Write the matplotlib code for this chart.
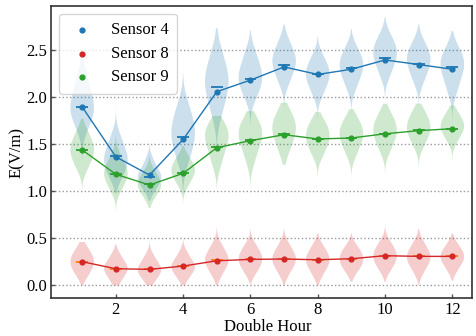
import matplotlib
matplotlib.use("Agg")
import matplotlib.pyplot as plt
from matplotlib import mlab
import numpy as np

plt.rcParams['font.family'] = ['Liberation Serif', 'DejaVu Serif']

hours = list(range(1, 13))
x_ticks = [2, 4, 6, 8, 10, 12]
y_ticks = [0.0, 0.5, 1.0, 1.5, 2.0, 2.5]

# mean values
mean_s4 = [1.895, 1.365, 1.172, 1.55, 2.057, 2.18, 2.32, 2.24, 2.295, 2.394, 2.345, 2.295]
mean_s8 = [0.251, 0.177, 0.170, 0.205, 0.261, 0.276, 0.280, 0.272, 0.283, 0.315, 0.308, 0.308]
mean_s9 = [1.438, 1.18, 1.066, 1.19, 1.462, 1.537, 1.60, 1.555, 1.565, 1.61, 1.643, 1.664]

# median values
med_s4 = [1.89, 1.37, 1.155, 1.58, 2.11, 2.19, 2.34, 2.24, 2.305, 2.41, 2.35, 2.32]
med_s8 = [0.25, 0.177, 0.17, 0.205, 0.265, 0.278, 0.28, 0.272, 0.285, 0.317, 0.31, 0.31]
med_s9 = [1.44, 1.18, 1.075, 1.19, 1.465, 1.54, 1.605, 1.555, 1.565, 1.612, 1.645, 1.665]

# lowest / highest value of each violin
lo_s4 = [1.3, 0.98, 0.9, 0.98, 0.87, 1.4, 1.65, 1.6, 1.65, 1.75, 1.7, 1.6]
hi_s4 = [2.4, 2.0, 1.83, 2.25, 2.73, 2.71, 2.77, 2.64, 2.72, 2.85, 2.77, 2.7]
lo_s8 = [0.0, 0.0, 0.0, 0.0, 0.0, 0.02, 0.0, 0.0, 0.04, 0.04, 0.0, 0.05]
hi_s8 = [0.46, 0.43, 0.7, 0.6, 0.75, 0.6, 0.6, 0.55, 0.55, 0.7, 0.6, 0.55]
lo_s9 = [0.83, 0.78, 0.82, 0.86, 0.85, 1.0, 1.28, 1.12, 1.0, 1.1, 1.2, 1.3]
hi_s9 = [1.77, 1.6, 1.38, 1.48, 1.8, 1.85, 1.94, 1.84, 1.87, 1.93, 1.93, 1.91]

# representative samples of the dense part of each violin
dist_s4 = [
    [1.66, 1.76, 1.82, 1.87, 1.91, 1.97, 2.04, 2.13, 2.26],
    [1.13, 1.21, 1.26, 1.30, 1.35, 1.39, 1.43, 1.50, 1.60],
    [1.00, 1.06, 1.10, 1.13, 1.155, 1.18, 1.21, 1.26, 1.34],
    [1.30, 1.42, 1.50, 1.56, 1.62, 1.68, 1.74, 1.82, 1.94],
    [1.80, 1.94, 2.03, 2.10, 2.16, 2.22, 2.28, 2.37, 2.50],
    [1.98, 2.07, 2.13, 2.18, 2.22, 2.27, 2.32, 2.40, 2.50],
    [2.14, 2.23, 2.29, 2.34, 2.38, 2.42, 2.46, 2.52, 2.61],
    [2.02, 2.10, 2.16, 2.20, 2.24, 2.28, 2.32, 2.37, 2.45],
    [2.09, 2.18, 2.24, 2.29, 2.33, 2.37, 2.41, 2.46, 2.54],
    [2.22, 2.31, 2.37, 2.42, 2.46, 2.50, 2.54, 2.59, 2.67],
    [2.15, 2.24, 2.30, 2.35, 2.39, 2.43, 2.47, 2.52, 2.60],
    [2.04, 2.15, 2.22, 2.28, 2.33, 2.37, 2.41, 2.46, 2.54],
]
dist_s8 = [
    [0.09, 0.15, 0.19, 0.22, 0.25, 0.28, 0.31, 0.35, 0.41],
    [0.03, 0.09, 0.13, 0.16, 0.18, 0.20, 0.23, 0.27, 0.33],
    [0.03, 0.09, 0.12, 0.15, 0.17, 0.19, 0.22, 0.26, 0.32],
    [0.06, 0.12, 0.15, 0.18, 0.20, 0.22, 0.25, 0.29, 0.35],
    [0.10, 0.17, 0.21, 0.24, 0.27, 0.30, 0.33, 0.37, 0.44],
    [0.12, 0.18, 0.22, 0.25, 0.28, 0.31, 0.34, 0.38, 0.44],
    [0.11, 0.18, 0.22, 0.25, 0.28, 0.31, 0.34, 0.38, 0.45],
    [0.10, 0.17, 0.21, 0.24, 0.27, 0.30, 0.33, 0.37, 0.43],
    [0.13, 0.19, 0.22, 0.25, 0.28, 0.31, 0.34, 0.37, 0.43],
    [0.15, 0.21, 0.25, 0.28, 0.31, 0.34, 0.37, 0.41, 0.47],
    [0.13, 0.20, 0.24, 0.27, 0.30, 0.33, 0.36, 0.40, 0.47],
    [0.15, 0.21, 0.25, 0.28, 0.30, 0.33, 0.36, 0.39, 0.45],
]
dist_s9 = [
    [1.23, 1.31, 1.36, 1.40, 1.44, 1.48, 1.52, 1.57, 1.65],
    [1.00, 1.07, 1.12, 1.16, 1.19, 1.22, 1.26, 1.31, 1.39],
    [0.92, 0.98, 1.02, 1.05, 1.07, 1.10, 1.13, 1.17, 1.23],
    [1.05, 1.12, 1.16, 1.19, 1.22, 1.25, 1.28, 1.32, 1.38],
    [1.27, 1.38, 1.45, 1.51, 1.56, 1.60, 1.64, 1.68, 1.74],
    [1.31, 1.42, 1.49, 1.54, 1.59, 1.63, 1.67, 1.72, 1.79],
    [1.40, 1.50, 1.56, 1.61, 1.66, 1.70, 1.74, 1.79, 1.87],
    [1.37, 1.45, 1.50, 1.54, 1.58, 1.62, 1.66, 1.70, 1.77],
    [1.38, 1.46, 1.52, 1.56, 1.60, 1.64, 1.68, 1.72, 1.79],
    [1.42, 1.50, 1.56, 1.60, 1.64, 1.68, 1.72, 1.77, 1.84],
    [1.47, 1.55, 1.60, 1.64, 1.67, 1.71, 1.75, 1.80, 1.86],
    [1.52, 1.59, 1.63, 1.66, 1.69, 1.72, 1.75, 1.79, 1.85],
]

series = [
    ("Sensor 4", dist_s4, lo_s4, hi_s4, med_s4, mean_s4, "#1f77b4", "#1f77b4"),
    ("Sensor 8", dist_s8, lo_s8, hi_s8, med_s8, mean_s8, "#d62728", "#ff7f0e"),
    ("Sensor 9", dist_s9, lo_s9, hi_s9, med_s9, mean_s9, "#2ca02c", "#2ca02c"),
]

fig = plt.figure(figsize=(4.77, 3.36), dpi=100)
ax = fig.add_axes([0.106, 0.112, 0.884, 0.871])

for label, dist, los, his, meds, means, col, medcol in series:
    stats = []
    for d, lo, hi, md, mn in zip(dist, los, his, meds, means):
        kde = mlab.GaussianKDE(np.asarray(d), 'scott')
        coords = np.linspace(lo, hi, 200)
        stats.append(dict(coords=coords, vals=kde.evaluate(coords),
                          mean=mn, median=md, min=lo, max=hi))
    parts = ax.violin(stats, positions=hours, widths=0.7,
                      showmeans=False, showextrema=False, showmedians=True)
    for b in parts['bodies']:
        b.set_facecolor(col)
        b.set_edgecolor('none')
        b.set_alpha(0.23)
    parts['cmedians'].set_color(medcol)
    parts['cmedians'].set_linewidth(1.3)

for label, dist, los, his, meds, means, col, medcol in series:
    ax.plot(hours, means, color=col, lw=1.0, zorder=3)
    ax.scatter(hours, means, color=col, s=12, zorder=4, label=label)

ax.set_xlim(0.06, 12.59)
ax.set_ylim(-0.138, 2.97)
ax.set_xticks(x_ticks)
ax.set_yticks(y_ticks)
ax.set_yticklabels([f"{v:.1f}" for v in y_ticks])
ax.tick_params(direction='in', length=3, width=1, color='#555555', labelsize=12, pad=2.5)
ax.yaxis.grid(True, linestyle=':', color='#999999', lw=1.0)
ax.set_axisbelow(True)
for s in ax.spines.values():
    s.set_color('#333333')
    s.set_linewidth(1.2)

ax.set_xlabel("Double Hour", fontsize=12, labelpad=0.5, x=0.515)
ax.set_ylabel("E(V/m)", fontsize=12, labelpad=1)

leg = ax.legend(loc='upper left', fontsize=12, handlelength=1.8, scatterpoints=1,
                borderpad=0.5, labelspacing=0.45, handletextpad=0.85,
                bbox_to_anchor=(0.0, 1.0), borderaxespad=0.5)
leg.get_frame().set_edgecolor('#cccccc')

fig.savefig("out.png", dpi=100)
